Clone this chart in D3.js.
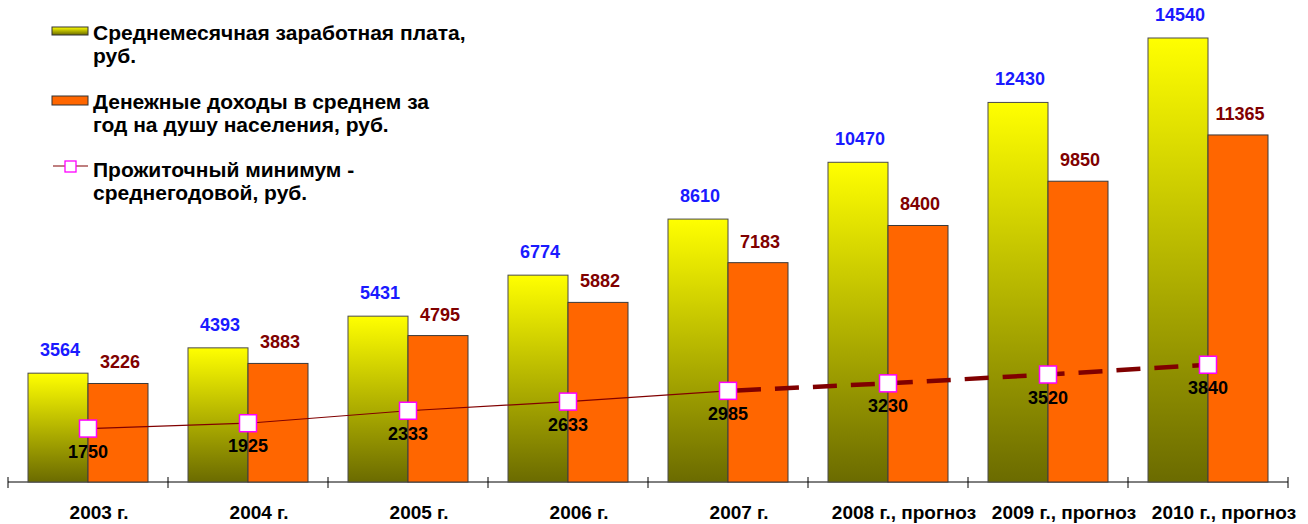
<!DOCTYPE html>
<html><head><meta charset="utf-8">
<script src="https://cdn.jsdelivr.net/npm/d3@7"></script>
<style>
html,body{margin:0;padding:0;background:#fff;}
svg{display:block;font-family:Arial,"Liberation Sans",sans-serif;font-weight:bold;}
</style></head>
<body>
<svg id="chart" width="1308" height="524"></svg>
<script>
const categories = ["2003 г.","2004 г.","2005 г.","2006 г.","2007 г.","2008 г., прогноз","2009 г., прогноз","2010 г., прогноз"];
const wages = [3564,4393,5431,6774,8610,10470,12430,14540];
const incomes = [3226,3883,4795,5882,7183,8400,9850,11365];
const minimum = [1750,1925,2333,2633,2985,3230,3520,3840];
const legendLabels = [
  ["Среднемесячная заработная плата,","руб."],
  ["Денежные доходы в среднем за","год на душу населения, руб."],
  ["Прожиточный минимум -","среднегодовой, руб."]
];
const forecastFrom = 4; // index where dashed segment starts

const svg = d3.select("#chart");
const defs = svg.append("defs");
const grad = defs.append("linearGradient").attr("id","yg").attr("x1",0).attr("y1",0).attr("x2",0).attr("y2",1);
grad.append("stop").attr("offset","0%").attr("stop-color","#ffff00");
grad.append("stop").attr("offset","100%").attr("stop-color","#6b6b00");

const x = d3.scaleBand().domain(categories).range([8,1288]).padding(0);
const inner = d3.scaleBand().domain(["w","i"]).range([0,x.bandwidth()]).paddingInner(0).paddingOuter(1/3);
const y = d3.scaleLinear().domain([0,14540]).range([482,38]);

// axis
const axis = d3.axisBottom(x).tickSize(0).tickFormat("");
const ax = svg.append("g").attr("transform","translate(0,482)").call(axis);
ax.select(".domain").attr("d","M8,0H1288").attr("stroke","#000");
const bounds = categories.map(c=>x(c)).concat([x(categories[categories.length-1])+x.bandwidth()]);
svg.append("g").selectAll("line").data(bounds).join("line")
  .attr("x1",d=>d).attr("x2",d=>d).attr("y1",477).attr("y2",488).attr("stroke","#000");

// bars
const g = svg.append("g");
g.selectAll("rect.w").data(wages).join("rect").attr("class","w")
  .attr("x",(d,i)=>x(categories[i])+inner("w")).attr("width",inner.bandwidth())
  .attr("y",d=>y(d)).attr("height",d=>y(0)-y(d))
  .attr("fill","url(#yg)").attr("stroke","#4a4a4a").attr("stroke-width",1);
g.selectAll("rect.i").data(incomes).join("rect").attr("class","i")
  .attr("x",(d,i)=>x(categories[i])+inner("i")).attr("width",inner.bandwidth())
  .attr("y",d=>y(d)).attr("height",d=>y(0)-y(d))
  .attr("fill","#ff6600").attr("stroke","#3a3a3a").attr("stroke-width",1);

// bar labels
g.selectAll("text.wl").data(wages).join("text")
  .attr("x",(d,i)=>x(categories[i])+inner("w")+inner.bandwidth()/2+2)
  .attr("y",d=>y(d)-17).attr("text-anchor","middle").attr("font-size",18)
  .attr("fill","#1a1aff").text(d=>d);
g.selectAll("text.il").data(incomes).join("text")
  .attr("x",(d,i)=>x(categories[i])+inner("i")+inner.bandwidth()/2+2)
  .attr("y",d=>y(d)-15).attr("text-anchor","middle").attr("font-size",18)
  .attr("fill","#800000").text(d=>d);

// line
const cx = i=>x(categories[i])+x.bandwidth()/2;
const pts = minimum.map((v,i)=>[cx(i),y(v)]);
const line = d3.line();
svg.append("path").attr("d",line(pts.slice(0,forecastFrom+1)))
  .attr("fill","none").attr("stroke","#800000").attr("stroke-width",1.2);
svg.append("path").attr("d",line(pts.slice(forecastFrom)))
  .attr("fill","none").attr("stroke","#800000").attr("stroke-width",4.5)
  .attr("stroke-dasharray","24,14").attr("stroke-dashoffset",-9);
svg.append("g").selectAll("rect").data(pts).join("rect")
  .attr("x",d=>d[0]-8.5).attr("y",d=>d[1]-8.5).attr("width",17).attr("height",17)
  .attr("fill","#fff").attr("stroke","#ff00ff").attr("stroke-width",1.5);
svg.append("g").selectAll("text").data(minimum).join("text")
  .attr("x",(d,i)=>cx(i)).attr("y",d=>y(d)+29).attr("text-anchor","middle")
  .attr("font-size",18).attr("fill","#000").text(d=>d);

// category labels
svg.append("g").selectAll("text").data(categories).join("text")
  .attr("x",(d,i)=>cx(i)+(d.length>8?16:11)).attr("y",519).attr("text-anchor","middle")
  .attr("font-size",19).attr("fill","#000").text(d=>d);

// legend
const lg = svg.append("g");
const lgY = [40,109,177];
lg.append("rect").attr("x",52).attr("y",27).attr("width",36).attr("height",8)
  .attr("fill","url(#yg)").attr("stroke","#333").attr("stroke-width",1);
lg.append("rect").attr("x",52).attr("y",96).attr("width",36).attr("height",9)
  .attr("fill","#ff6600").attr("stroke","#333").attr("stroke-width",1);
lg.append("line").attr("x1",53).attr("x2",88).attr("y1",166).attr("y2",166)
  .attr("stroke","#800000").attr("stroke-width",1.2);
lg.append("rect").attr("x",65).attr("y",161).attr("width",11).attr("height",11)
  .attr("fill","#fff").attr("stroke","#ff00ff").attr("stroke-width",1.3);
legendLabels.forEach((lines,k)=>{
  const t = lg.append("text").attr("x",93).attr("y",lgY[k]).attr("font-size",21).attr("fill","#000");
  lines.forEach((s,j)=>t.append("tspan").attr("x",93).attr("dy",j?23:0).text(s));
});
</script>
</body></html>
